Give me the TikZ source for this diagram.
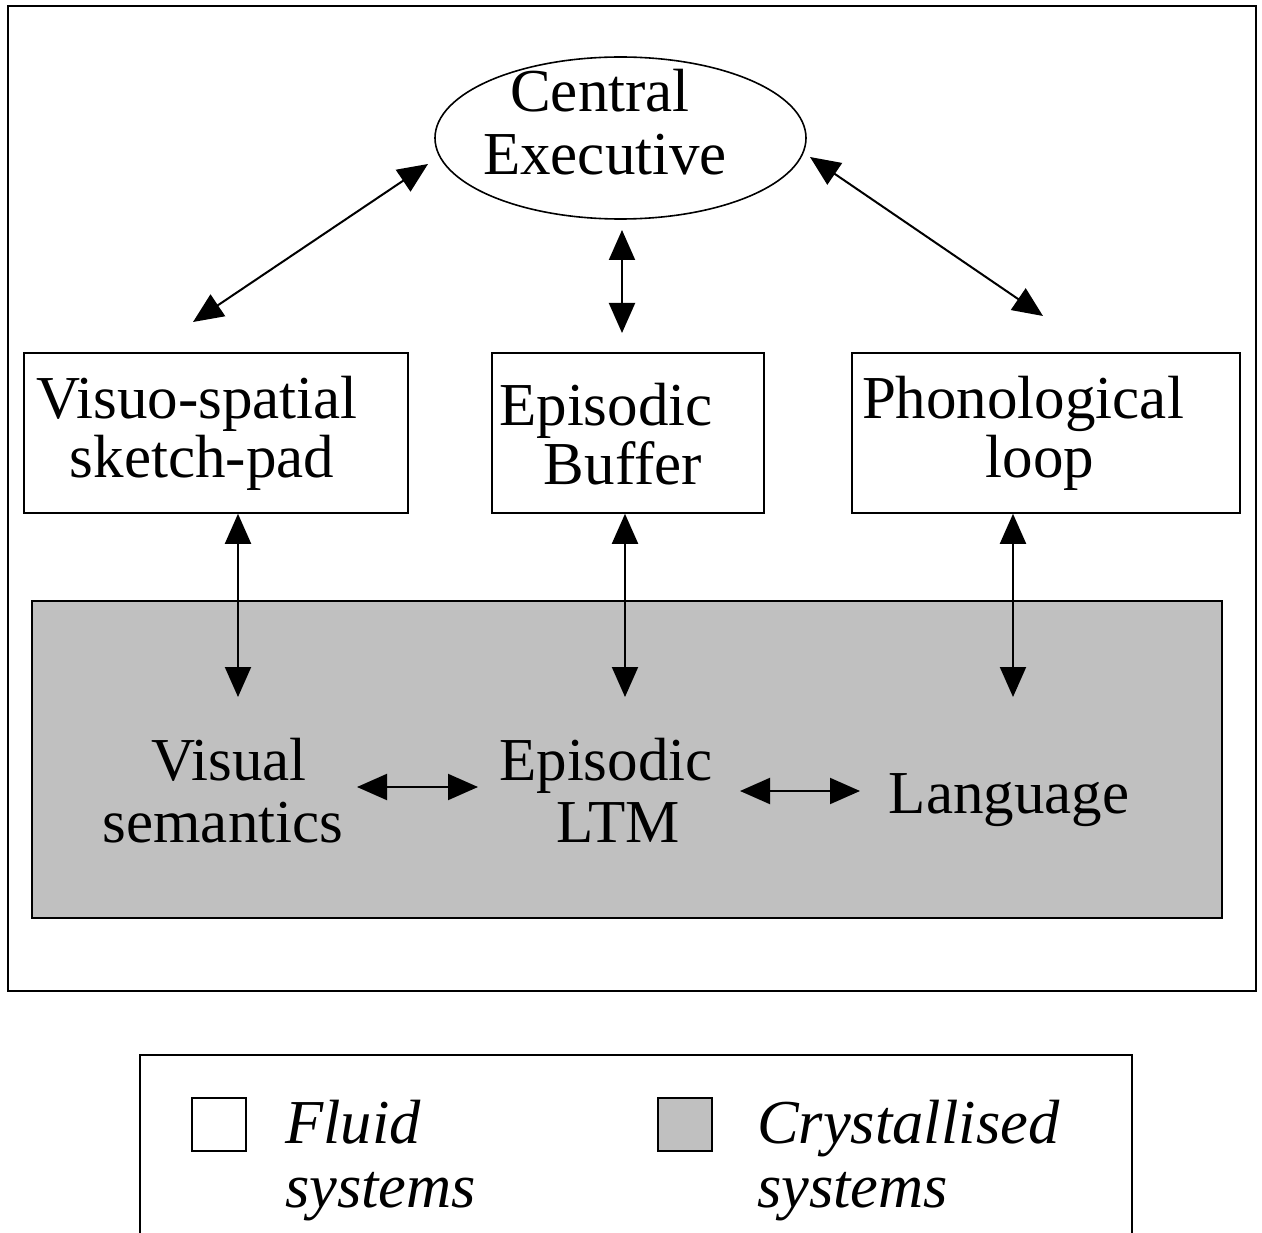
\documentclass[tikz,border=0pt]{standalone}
\usepackage{fontspec}
\setmainfont{Liberation Serif}
\usetikzlibrary{arrows.meta,shapes.geometric}
\definecolor{crys}{HTML}{C0C0C0}
\begin{document}
\begin{tikzpicture}[x=1pt,y=-1pt,
  lbl/.style={anchor=base, inner sep=0pt, font=\fontsize{61}{64}\selectfont},
  leg/.style={anchor=base west, inner sep=0pt, font=\fontsize{62.5}{64}\selectfont\itshape},
  dbl/.style={{Triangle[length=30pt,width=26pt]}-{Triangle[length=30pt,width=26pt]}, line width=2pt},
  frame/.style={draw, line width=1.6pt, inner sep=0pt},
  fluidbox/.style={frame, fill=white},
  crysbox/.style={frame, fill=crys},
]
\useasboundingbox (0,0) rectangle (1262,1233);

% outer frame
\node[frame, minimum width=1248pt, minimum height=985pt] (outer) at (632,498.5) {};

% central executive
\node[frame, ellipse, minimum width=371pt, minimum height=162pt] (ce) at (620.5,138) {};
\node[lbl] (ce1) at (600,112) {Central};
\node[lbl] (ce2) at (605,175) {Executive};

% fluid boxes
\node[fluidbox, minimum width=384pt, minimum height=160pt] (vs) at (216,433) {};
\node[lbl] (vs1) at (197,418) {Visuo-spatial};
\node[lbl] (vs2) at (202,478) {sketch-pad};

\node[fluidbox, minimum width=272pt, minimum height=160pt] (eb) at (628,433) {};
\node[lbl] (eb1) at (606,425) {Episodic};
\node[lbl] (eb2) at (623,484) {Buffer};

\node[fluidbox, minimum width=388pt, minimum height=160pt] (pl) at (1046,433) {};
\node[lbl] (pl1) at (1023,418) {Phonological};
\node[lbl] (pl2) at (1040,478) {loop};

% crystallised systems
\node[crysbox, minimum width=1190pt, minimum height=317pt] (cr) at (627,759.5) {};
\node[lbl] (vis1) at (229,780) {Visual};
\node[lbl] (vis2) at (223,842) {semantics};
\node[lbl] (ltm1) at (606,780) {Episodic};
\node[lbl] (ltm2) at (618,842) {LTM};
\node[lbl] (lang) at (1009,813) {Language};

% arrow end points
\coordinate (a1) at (193,322);  \coordinate (a2) at (428,164);
\coordinate (b1) at (622,230);  \coordinate (b2) at (622,333);
\coordinate (c1) at (810,157);  \coordinate (c2) at (1043,316);
\coordinate (d2) at (238,697);
\coordinate (e2) at (625,697);
\coordinate (f2) at (1013,697);
\coordinate (g1) at (357,787);  \coordinate (g2) at (478,787);
\coordinate (h1) at (740,791);  \coordinate (h2) at (860,791);

\draw[dbl] (a1) -- (a2);
\draw[dbl] (b1) -- (b2);
\draw[dbl] (c1) -- (c2);
\draw[dbl] (vs.south -| d2) -- (d2);
\draw[dbl] (eb.south -| e2) -- (e2);
\draw[dbl] (pl.south -| f2) -- (f2);
\draw[dbl] (g1) -- (g2);
\draw[dbl] (h1) -- (h2);

% legend
\coordinate (lg1) at (140,1233);
\coordinate (lg2) at (1132,1233);
\draw[line width=1.6pt] (lg1) |- (1132,1055) -- (lg2);
\node[fluidbox, minimum width=54pt, minimum height=53pt] (sw1) at (219,1124.5) {};
\node[crysbox, minimum width=54pt, minimum height=53pt] (sw2) at (685,1124.5) {};
\node[leg] (lf1) at (285,1143) {Fluid};
\node[leg] (lf2) at (285,1207) {systems};
\node[leg] (lc1) at (757,1143) {Crystallised};
\node[leg] (lc2) at (757,1207) {systems};
\end{tikzpicture}
\end{document}
